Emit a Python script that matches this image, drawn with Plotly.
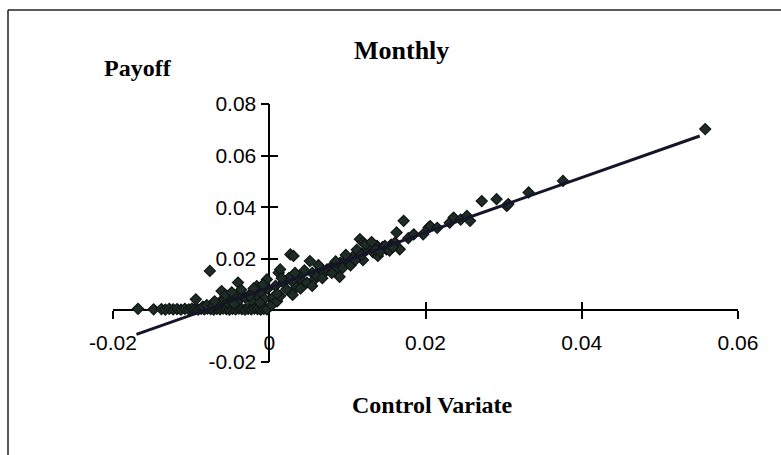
import plotly.graph_objects as go

# Control variate (x) vs payoff (y), monthly observations
control_variate = [
    -0.0168, -0.0148, -0.0138, -0.0133, -0.0128, -0.0123, -0.0118, -0.0113, -0.0108, -0.0103,
    -0.0099, -0.0095, -0.0091, -0.0087, -0.0083, -0.0079, -0.0075, -0.0071, -0.0067, -0.0063,
    -0.0059, -0.0055, -0.0051, -0.0047, -0.0043, -0.0039, -0.0035, -0.0031, -0.0027, -0.0023,
    -0.0019, -0.0015, -0.0011, -0.0007, -0.0003,
    -0.0094, -0.0085, -0.0080, -0.0072, -0.0066, -0.0062, -0.0058, -0.0054, -0.0050, -0.0046,
    -0.0042, -0.0038, -0.0034, -0.0030, -0.0026, -0.0022, -0.0018, -0.0014, -0.0010, -0.0006,
    -0.0002,
    -0.0076, -0.0061, -0.0040, -0.0025, -0.0016, -0.0003,
    -0.0070, -0.0056, -0.0048, -0.0036, -0.0020, -0.0008, -0.0045, -0.0012,
    0.0003, 0.0005, 0.0008, 0.0010, 0.0012, 0.0014, 0.0014, 0.0018, 0.0022, 0.0027,
    0.0031, 0.0031, 0.0035, 0.0039, 0.0043, 0.0048, 0.0052, 0.0055, 0.0058, 0.0061,
    0.0066, 0.0070, 0.0074, 0.0078, 0.0083, 0.0087, 0.0091, 0.0096, 0.0101, 0.0108,
    0.0112, 0.0116, 0.0120, 0.0125, 0.0129, 0.0133, 0.0138, 0.0139, 0.0145, 0.0150,
    0.0156, 0.0161, 0.0163, 0.0167, 0.0172, 0.0178, 0.0185, 0.0197, 0.0204, 0.0206,
    0.0215, 0.0231, 0.0236, 0.0245, 0.0253, 0.0257, 0.0272, 0.0291, 0.0304, 0.0306,
    0.0332, 0.0376, 0.0558,
    0.0030, 0.0055, 0.0090, 0.0120,
    0.0045, 0.0063, 0.0068, 0.0080, 0.0085, 0.0094, 0.0098, 0.0104, 0.0110, 0.0118,
    0.0123, 0.0131, 0.0136, 0.0142, 0.0148, 0.0154, 0.0158, 0.0025, 0.0033, 0.0016,
    0.0040, 0.0010,
]
payoff = [
    0.0006, 0.0004, 0.0005, 0.0003, 0.0006, 0.0004, 0.0005, 0.0003, 0.0006, 0.0004,
    0.0007, 0.0005, 0.0003, 0.0006, 0.0004, 0.0007, 0.0005, 0.0003, 0.0006, 0.0004,
    0.0007, 0.0005, 0.0003, 0.0006, 0.0004, 0.0007, 0.0005, 0.0003, 0.0006, 0.0004,
    0.0007, 0.0005, 0.0003, 0.0006, 0.0004,
    0.0043, 0.0015, 0.0020, 0.0018, 0.0025, 0.0035, 0.0042, 0.0030, 0.0045, 0.0038,
    0.0050, 0.0042, 0.0055, 0.0048, 0.0058, 0.0040, 0.0065, 0.0052, 0.0070, 0.0045,
    0.0085,
    0.0153, 0.0075, 0.0108, 0.0056, 0.0094, 0.0120,
    0.0035, 0.0060, 0.0070, 0.0080, 0.0085, 0.0100, 0.0025, 0.0030,
    0.0020, 0.0050, 0.0095, 0.0035, 0.0146, 0.0056, 0.0159, 0.0108, 0.0082, 0.0217,
    0.0211, 0.0108, 0.0090, 0.0133, 0.0110, 0.0108, 0.0191, 0.0145, 0.0120, 0.0133,
    0.0160, 0.0145, 0.0159, 0.0165, 0.0172, 0.0165, 0.0185, 0.0190, 0.0195, 0.0211,
    0.0235, 0.0276, 0.0263, 0.0237, 0.0250, 0.0225, 0.0250, 0.0211, 0.0245, 0.0237,
    0.0255, 0.0263, 0.0302, 0.0237, 0.0347, 0.0280, 0.0295, 0.0295, 0.0321, 0.0327,
    0.0320, 0.0340, 0.0360, 0.0352, 0.0366, 0.0347, 0.0424, 0.0431, 0.0405, 0.0412,
    0.0457, 0.0502, 0.0703,
    0.0060, 0.0095, 0.0130, 0.0195,
    0.0155, 0.0175, 0.0125, 0.0145, 0.0190, 0.0165, 0.0215, 0.0175, 0.0195, 0.0215,
    0.0255, 0.0265, 0.0235, 0.0228, 0.0250, 0.0232, 0.0245, 0.0125, 0.0145, 0.0125,
    0.0085, 0.0065,
]

# Fitted line end points
fit_x = [-0.0170, 0.0551]
fit_y = [-0.0093, 0.0676]

x_ticks = [-0.02, 0, 0.02, 0.04, 0.06]
x_tick_text = ["-0.02", "0", "0.02", "0.04", "0.06"]
y_ticks = [-0.02, 0.02, 0.04, 0.06, 0.08]
y_tick_text = ["-0.02", "0.02", "0.04", "0.06", "0.08"]

x_range = [-0.02, 0.06]
y_range = [-0.02, 0.08]

W, H = 781, 455
L, R, T, B = 113, 43, 104, 93
pw, ph = W - L - R, H - T - B

def px_x(px):
    return (px - L) / pw

def px_y(py):
    return (H - B - py) / ph

x_cross = (0 - y_range[0]) / (y_range[1] - y_range[0])
y_cross = (0 - x_range[0]) / (x_range[1] - x_range[0])

tick_font = dict(family="Liberation Sans, Arial, sans-serif", size=21, color="black")
serif_bold = "Liberation Serif, Times New Roman, serif"

fig = go.Figure()
fig.add_trace(go.Scatter(
    x=control_variate, y=payoff, mode="markers",
    marker=dict(symbol="diamond", size=8.5, color="#1e2c27",
                line=dict(color="#101513", width=1.2)),
    showlegend=False, hoverinfo="skip",
))
fig.add_trace(go.Scatter(
    x=fit_x, y=fit_y, mode="lines",
    line=dict(color="#15152a", width=3),
    showlegend=False, hoverinfo="skip",
))
fig.add_trace(go.Scatter(x=[None], y=[None], xaxis="x2", yaxis="y2",
                         showlegend=False, hoverinfo="skip"))

axis_common = dict(showgrid=False, zeroline=False, tickcolor="black", tickwidth=1.5,
                   ticklen=8, layer="below traces")

fig.update_layout(
    width=W, height=H,
    margin=dict(l=L, r=R, t=T, b=B),
    paper_bgcolor="white", plot_bgcolor="white",
    xaxis=dict(range=x_range, tickvals=x_ticks, ticktext=x_tick_text,
               anchor="free", position=x_cross, showline=True, ticks="outside",
               linecolor="black", linewidth=1.5,
               tickfont=tick_font, ticklabelstandoff=6, **axis_common),
    yaxis=dict(range=y_range, tickvals=y_ticks, ticktext=y_tick_text,
               anchor="free", position=y_cross, showline=True, ticks="outside",
               linecolor="black", linewidth=1.5,
               tickfont=tick_font, **axis_common),
    xaxis2=dict(range=x_range, tickvals=x_ticks, overlaying="x", anchor="free",
                position=x_cross, showline=False, ticks="inside",
                showticklabels=False, **axis_common),
    yaxis2=dict(range=y_range, tickvals=y_ticks, overlaying="y", anchor="free",
                position=y_cross, showline=False, ticks="inside",
                showticklabels=False, **axis_common),
    annotations=[
        dict(text="<b>Monthly</b>", x=px_x(401), y=px_y(50), xref="paper", yref="paper",
             showarrow=False, font=dict(family=serif_bold, size=26, color="black"),
             xanchor="center", yanchor="middle"),
        dict(text="<b>Payoff</b>", x=px_x(138), y=px_y(68), xref="paper", yref="paper",
             showarrow=False, font=dict(family=serif_bold, size=24, color="black"),
             xanchor="center", yanchor="middle"),
        dict(text="<b>Control Variate</b>", x=px_x(432), y=px_y(405), xref="paper",
             yref="paper", showarrow=False,
             font=dict(family=serif_bold, size=24, color="black"),
             xanchor="center", yanchor="middle"),
    ],
    shapes=[
        dict(type="line", xref="paper", yref="paper", x0=px_x(8), x1=px_x(781),
             y0=px_y(10), y1=px_y(10), line=dict(color="#222", width=1.5)),
        dict(type="line", xref="paper", yref="paper", x0=px_x(8), x1=px_x(8),
             y0=px_y(10), y1=px_y(455), line=dict(color="#222", width=1.5)),
    ],
)

fig.write_html("out.html", config={"displayModeBar": False},
               post_script="document.body.style.margin='0px';")
